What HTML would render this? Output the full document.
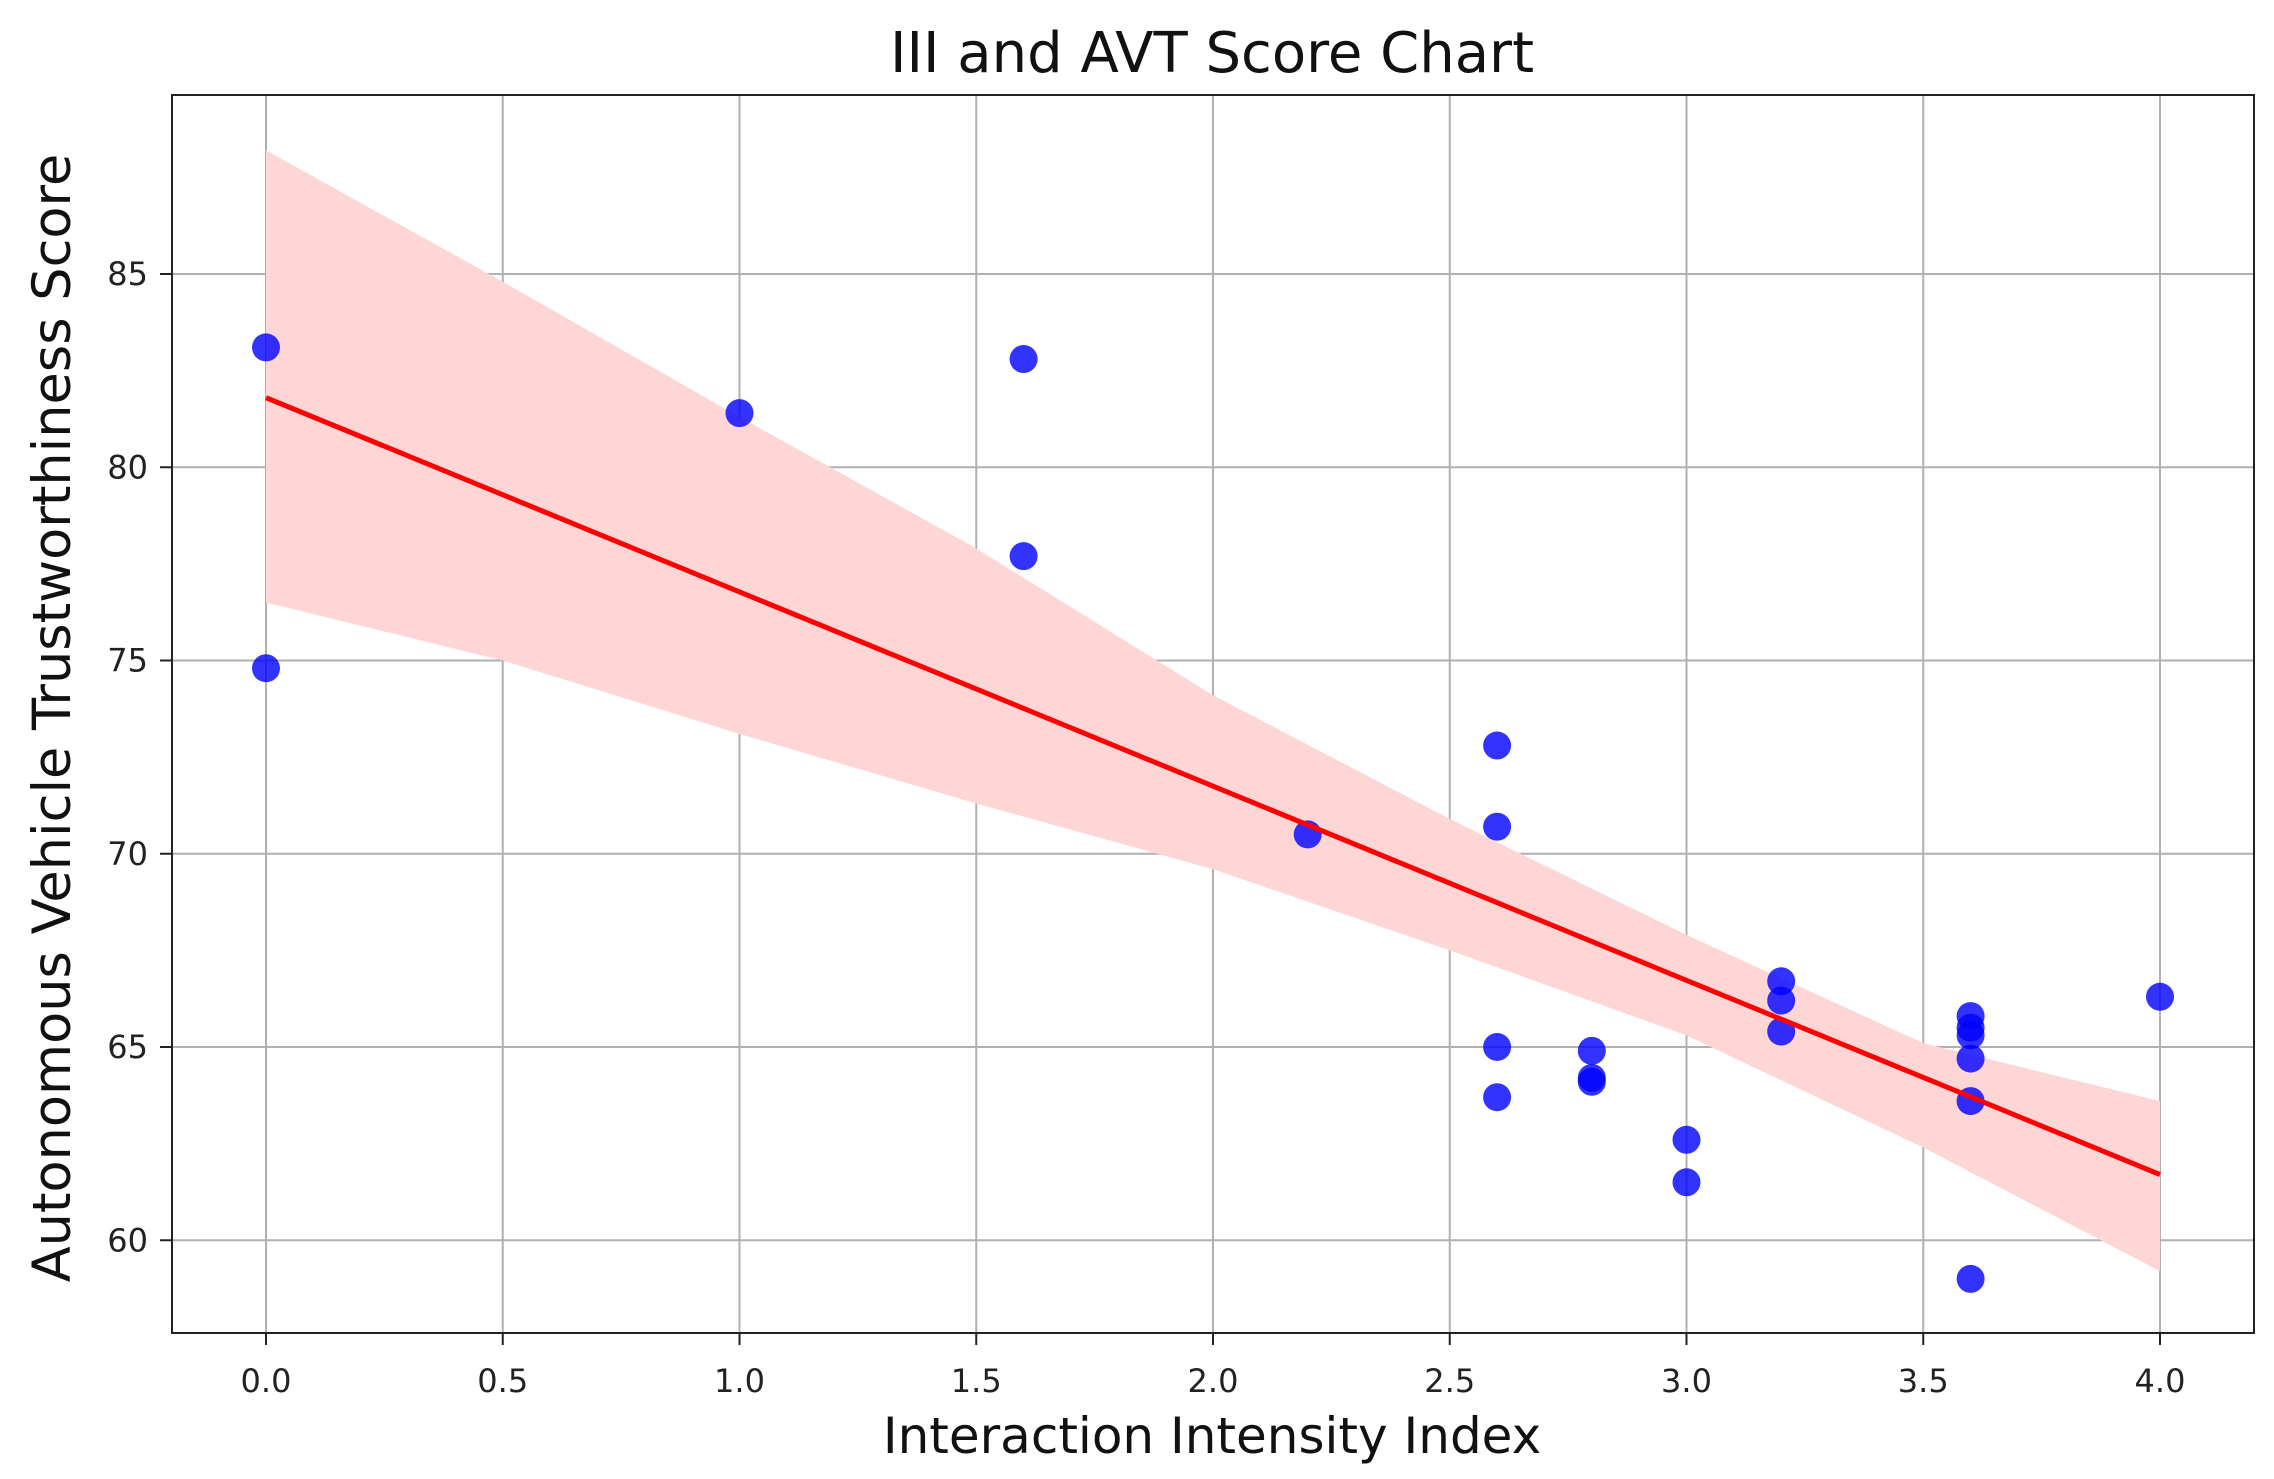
<!DOCTYPE html>
<html><head><meta charset="utf-8"><style>
body{margin:0;background:#fff;}
svg{display:block;font-family:"DejaVu Sans","Liberation Sans",sans-serif;}
</style></head><body>
<svg id="chart" width="2274" height="1479" viewBox="0 0 2274 1479" xmlns="http://www.w3.org/2000/svg">
<g id="grid"></g>
<g id="band"></g>
<g id="pts"></g>
<g id="fit"></g>
<rect x="172" y="95" width="2082" height="1238" fill="none" stroke="#222" stroke-width="2"/>
<g id="ticks"></g>
<text x="1212" y="72" text-anchor="middle" font-size="56" fill="#111">III and AVT Score Chart</text>
<text x="1212" y="1453" text-anchor="middle" font-size="50" fill="#111">Interaction Intensity Index</text>
<text transform="translate(70,718) rotate(-90)" text-anchor="middle" font-size="52.5" fill="#111">Autonomous Vehicle Trustworthiness Score</text>
</svg>
<script>
const xTicks=[0,0.5,1,1.5,2,2.5,3,3.5,4];
const xTickLabels=["0.0","0.5","1.0","1.5","2.0","2.5","3.0","3.5","4.0"];
const yTicks=[60,65,70,75,80,85];
const ptsX=[0,0,1.0,1.6,1.6,2.2,2.6,2.6,2.6,2.6,2.8,2.8,2.8,3.0,3.0,3.2,3.2,3.2,3.6,3.6,3.6,3.6,3.6,3.6,4.0];
const ptsY=[83.1,74.8,81.4,82.8,77.7,70.5,72.8,70.7,65.0,63.7,64.9,64.2,64.1,62.6,61.5,66.7,66.2,65.4,65.8,65.5,65.3,64.7,63.6,59.0,66.3];
const fitX=[0,4];
const fitY=[81.8,61.7];
const bandX=[0,0.5,1.0,1.5,2.0,2.5,3.0,3.5,4.0];
const bandUpper=[88.2,84.8,81.3,77.9,74.1,70.9,67.9,65.1,63.6];
const bandLower=[76.5,75.0,73.1,71.3,69.6,67.5,65.3,62.4,59.2];
const X=v=>266+v*473.5;
const Y=v=>274+(85-v)*38.65;
const NS="http://www.w3.org/2000/svg";
function mk(tag,parent,attrs){const e=document.createElementNS(NS,tag);for(const k in attrs)e.setAttribute(k,attrs[k]);document.getElementById(parent).appendChild(e);return e;}
xTicks.forEach((t,i)=>{
 const g=mk('line','grid',{x1:X(t),x2:X(t),y1:95,y2:1333,stroke:'#b0b0b0','stroke-width':2});
 
 
 const tk=mk('line','ticks',{x1:X(t),x2:X(t),y1:1333,y2:1345,stroke:'#222','stroke-width':2});
 
 
 const tx=mk('text','ticks',{x:X(t),y:1392,'text-anchor':'middle','font-size':32,fill:'#222'});
 tx.textContent=xTickLabels[i];
 
 
});
yTicks.forEach(t=>{
 const g=mk('line','grid',{x1:172,x2:2254,y1:Y(t),y2:Y(t),stroke:'#b0b0b0','stroke-width':2});
 
 
 const tk=mk('line','ticks',{x1:160,x2:172,y1:Y(t),y2:Y(t),stroke:'#222','stroke-width':2});
 
 
 const tx=mk('text','ticks',{x:148,y:Y(t)+11,'text-anchor':'end','font-size':32,fill:'#222'});
 tx.textContent=String(t);
 
 
});
let d='M'+bandX.map((x,i)=>X(x)+','+Y(bandUpper[i])).join(' L');
for(let i=bandX.length-1;i>=0;i--)d+=' L'+X(bandX[i])+','+Y(bandLower[i]);
const b=mk('path','band',{d:d+' Z',fill:'#ffd6d6'});


ptsX.forEach((x,i)=>{
 const c=mk('circle','pts',{cx:X(x),cy:Y(ptsY[i]),r:14,fill:'#0000ff','fill-opacity':0.8});
 
 
});
const l=mk('line','fit',{x1:X(fitX[0]),y1:Y(fitY[0]),x2:X(fitX[1]),y2:Y(fitY[1]),stroke:'#ff0000','stroke-width':5});


</script>
</body></html>
